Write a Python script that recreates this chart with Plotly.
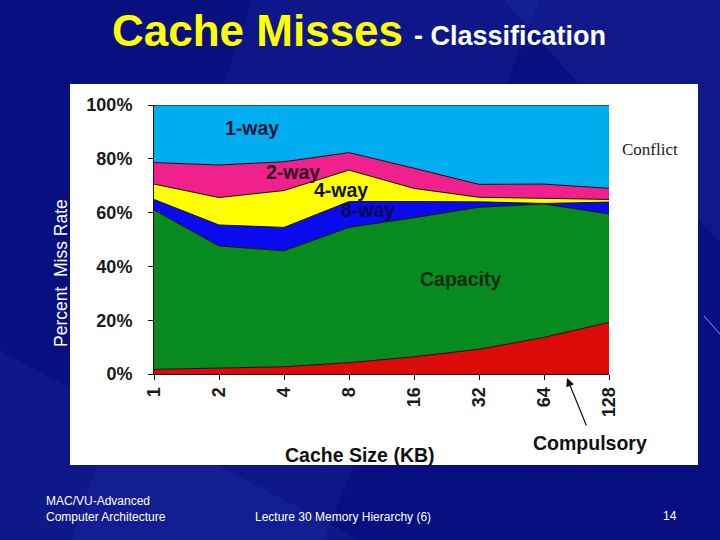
import plotly.graph_objects as go

# ---- data (percent of misses, layer thickness) ----
cache_kb = ["1", "2", "4", "8", "16", "32", "64", "128"]
compulsory = [1.7, 2.1, 2.7, 4.2, 6.4, 9.2, 13.6, 19.2]
capacity = [59.3, 45.5, 43.1, 50.3, 51.7, 52.8, 49.6, 40.3]
way8 = [3.9, 7.8, 8.7, 9.6, 6.0, 2.0, 0.2, 4.4]
way4 = [5.7, 10.2, 13.7, 11.7, 4.9, 1.7, 1.9, 1.0]
way2 = [8.0, 12.1, 10.7, 6.5, 7.5, 4.8, 5.3, 4.1]
way1 = [21.4, 22.3, 21.1, 17.7, 23.5, 29.5, 29.4, 31.0]
y_ticks = [0, 20, 40, 60, 80, 100]
y_tick_labels = ["0%", "20%", "40%", "60%", "80%", "100%"]

series = [
    ("Compulsory", compulsory, "#DD0A0A"),
    ("Capacity", capacity, "#078A1E"),
    ("8-way", way8, "#0A0AEE"),
    ("4-way", way4, "#FFFF00"),
    ("2-way", way2, "#F0208C"),
    ("1-way", way1, "#00ADEF"),
]

W, H = 720, 540
BG = "#08107F"
def px(x):
    return x / W
def py(y):
    return 1 - y / H

fig = go.Figure()
for name, vals, col in series:
    fig.add_trace(go.Scatter(
        x=cache_kb, y=vals, name=name, stackgroup="one", mode="lines",
        line=dict(color="#111111", width=1), fillcolor=col,
        hoverinfo="skip", showlegend=False))

shapes = []
# slide background streaks
shapes.append(dict(type="path", xref="paper", yref="paper",
                   path="M 0.35 1 L 0.75 1 L 0.45 0 L 0.1 0 Z",
                   fillcolor="rgba(60,90,230,0.10)", line=dict(width=0), layer="below"))
shapes.append(dict(type="path", xref="paper", yref="paper",
                   path="M 0.7 1 L 1 1 L 1 0.55 Z",
                   fillcolor="rgba(80,110,240,0.10)", line=dict(width=0), layer="below"))
shapes.append(dict(type="path", xref="paper", yref="paper",
                   path="M 0 0.35 L 0 0 L 0.5 0 Z",
                   fillcolor="rgba(80,110,240,0.09)", line=dict(width=0), layer="below"))
# white chart panel
shapes.append(dict(type="rect", xref="paper", yref="paper",
                   x0=px(70), x1=px(698), y0=py(465), y1=py(84),
                   fillcolor="white", line=dict(width=0), layer="below"))
# decorative thin line at the right edge
shapes.append(dict(type="line", xref="paper", yref="paper",
                   x0=px(704), y0=py(316), x1=px(720), y1=py(334),
                   line=dict(color="#9C8CFF", width=1)))

ann = []
def txt(s, x, y, size, color="#111111", bold=True, family="Liberation Sans, Arial",
        xa="center", ya="middle", angle=0, align="center"):
    ann.append(dict(text=s, x=px(x), y=py(y), xref="paper", yref="paper",
                    showarrow=False, xanchor=xa, yanchor=ya, textangle=angle,
                    align=align,
                    font=dict(size=size, color=color, family=family,
                              weight="bold" if bold else "normal")))

# title
txt("Cache Misses", 110, 30, 44, color="#FFFF00", xa="left")
txt("- Classification", 412, 36, 27, color="#FFFFFF", xa="left")
# y-axis title on the slide
txt("Percent\u00a0 Miss Rate", 61, 273, 17.5, color="#FFFFFF", bold=False, angle=-90)
# labels in chart
txt("1-way", 252, 128, 19.5, color="#0A1440")
txt("2-way", 293, 172, 19.5, color="#2A0A20")
txt("4-way", 341, 190, 19.5, color="#111111")
txt("8-way", 368, 210, 19.5, color="#0A0A50")
txt("Capacity", 461, 279, 19.5, color="#0A2A10")
txt("Conflict", 650, 149, 17, color="#222222", bold=False, family="Liberation Serif, Times New Roman")
txt("Compulsory", 590, 443, 19.5, color="#111111")
txt("Cache Size (KB)", 360, 455, 19.5, color="#111111")
# arrow to compulsory region
ann.append(dict(text="", x=px(567), y=py(378), xref="paper", yref="paper",
                showarrow=True, ax=20, ay=49, arrowhead=2, arrowsize=1.4,
                arrowwidth=1.2, arrowcolor="#111111"))
# footer
txt("MAC/VU-Advanced<br>Computer Architecture", 44, 509, 12, color="#FFFFFF",
    bold=False, xa="left", align="left")
txt("Lecture 30 Memory Hierarchy (6)", 253, 517, 12, color="#FFFFFF", bold=False, xa="left")
txt("14", 670, 516, 12, color="#FFFFFF", bold=False)

fig.update_layout(
    width=W, height=H, margin=dict(l=0, r=0, t=0, b=0, autoexpand=False),
    paper_bgcolor=BG, plot_bgcolor="white",
    shapes=shapes, annotations=ann,
    xaxis=dict(domain=[px(154), px(609)], type="category", range=[0, 7],
               automargin=False,
               showline=True, linecolor="#111111", linewidth=1,
               ticks="outside", ticklen=5, tickcolor="#111111",
               tickangle=-90, showgrid=False, zeroline=False,
               tickfont=dict(size=18, color="#1A1A1A", family="Liberation Sans, Arial",
                             weight="bold")),
    yaxis=dict(domain=[py(374), py(105)], range=[0, 100], tickmode="array",
               tickvals=y_ticks, ticktext=y_tick_labels, automargin=False,
               showline=True, linecolor="#111111", linewidth=1,
               ticks="outside", ticklen=5, tickcolor="#111111", ticklabelstandoff=12,
               showgrid=False, zeroline=False,
               tickfont=dict(size=18, color="#1A1A1A", family="Liberation Sans, Arial",
                             weight="bold")),
)

fig.write_html(
    "out.html",
    config={"displayModeBar": False},
    post_script="document.body.style.margin='0';document.body.style.background='%s';" % BG,
)
